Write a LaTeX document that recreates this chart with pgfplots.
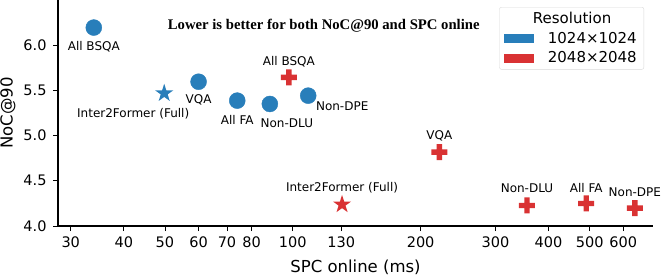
\documentclass[border=0pt]{standalone}
\usepackage{pgfplots}
\pgfplotsset{compat=1.18}
\usepackage{fontspec}
\setmainfont{DejaVu Sans}
\newfontfamily\titlefont{Liberation Serif}
\definecolor{tabblue}{RGB}{40,126,186}
\definecolor{tabred}{RGB}{217,50,51}
\pgfdeclareplotmark{fstar}{%
  \pgfpathmoveto{\pgfpointpolar{90}{\pgfplotmarksize}}%
  \pgfpathlineto{\pgfpointpolar{126}{0.382\pgfplotmarksize}}%
  \pgfpathlineto{\pgfpointpolar{162}{\pgfplotmarksize}}%
  \pgfpathlineto{\pgfpointpolar{198}{0.382\pgfplotmarksize}}%
  \pgfpathlineto{\pgfpointpolar{234}{\pgfplotmarksize}}%
  \pgfpathlineto{\pgfpointpolar{270}{0.382\pgfplotmarksize}}%
  \pgfpathlineto{\pgfpointpolar{306}{\pgfplotmarksize}}%
  \pgfpathlineto{\pgfpointpolar{342}{0.382\pgfplotmarksize}}%
  \pgfpathlineto{\pgfpointpolar{18}{\pgfplotmarksize}}%
  \pgfpathlineto{\pgfpointpolar{54}{0.382\pgfplotmarksize}}%
  \pgfpathclose
  \pgfusepathqfill}
\pgfdeclareplotmark{fplus}{%
  \pgfpathrectanglecorners{\pgfpoint{-\pgfplotmarksize}{-0.34\pgfplotmarksize}}{\pgfpoint{\pgfplotmarksize}{0.34\pgfplotmarksize}}%
  \pgfpathrectanglecorners{\pgfpoint{-0.34\pgfplotmarksize}{-\pgfplotmarksize}}{\pgfpoint{0.34\pgfplotmarksize}{\pgfplotmarksize}}%
  \pgfusepathqfill}
\begin{document}
\begin{tikzpicture}
\path[use as bounding box] (-58pt,-51pt) rectangle (606pt,226pt);
\begin{axis}[
  at={(0,0)}, anchor=south west, scale only axis, width=595pt, height=226pt,
  xmode=log, xmin=28, xmax=705, ymin=4.0, ymax=6.5,
  axis x line*=bottom, axis y line*=left,
  tick align=outside, major tick length=5pt,
  xtick={30,40,50,60,70,80,100,130,200,300,400,500,600},
  xticklabels={30,40,50,60,70,80,100,130,200,300,400,500,600},
  xminorticks=false, yminorticks=false,
  ytick={4.0,4.5,5.0,5.5,6.0},
  yticklabels={4.0,4.5,5.0,5.5,6.0},
  ticklabel style={font=\fontsize{14.5}{16}\selectfont},
  xticklabel style={yshift=-2pt},
  yticklabel style={xshift=-3pt},
  xlabel={SPC online (ms)}, ylabel={NoC@90},
  label style={font=\fontsize{16.5}{19}\selectfont},
  xlabel style={yshift=-6pt},
  ylabel style={yshift=1pt},
  axis line style={line width=1.1pt}, tick style={line width=0.9pt, black},
  clip=false,
  legend style={at={(1,1)}, anchor=north east, xshift=-9pt, yshift=-7pt,
    draw=black!15, rounded corners=2pt, font=\fontsize{15}{18}\selectfont,
    inner xsep=5pt, inner ysep=3pt, row sep=3pt,
    /tikz/every odd column/.append style={column sep=12pt}},
  legend cell align=left,
]
\addlegendimage{empty legend}\addlegendentry{\hspace*{-15pt}Resolution}
\addlegendimage{legend image code/.code={\fill[tabblue, sharp corners] (0pt,-4.2pt) rectangle (29pt,4.2pt);}}\addlegendentry{1024×1024}
\addlegendimage{legend image code/.code={\fill[tabred, sharp corners] (0pt,-4.2pt) rectangle (29pt,4.2pt);}}\addlegendentry{2048×2048}

\addplot[only marks, mark=*, mark size=8pt, color=tabblue, forget plot]
  coordinates {(34,6.195) (60,5.596) (74,5.387) (88.3,5.35) (108.7,5.442)};
\addplot[only marks, mark=fstar, mark size=9.5pt, color=tabblue, forget plot]
  coordinates {(49.8,5.468)};
\addplot[only marks, mark=fplus, mark size=8pt, color=tabred, forget plot]
  coordinates {(97.9,5.644) (221.4,4.818) (356,4.227) (490.8,4.249) (639,4.197)};
\addplot[only marks, mark=fstar, mark size=9.5pt, color=tabred, forget plot]
  coordinates {(130.6,4.238)};

\begin{scope}[every node/.style={font=\fontsize{12}{14}\selectfont}]
\node at ([yshift=-19pt]axis cs:34,6.195) {All BSQA};
\node at ([yshift=-18pt]axis cs:60,5.596) {VQA};
\node at ([xshift=-31pt,yshift=-20pt]axis cs:49.8,5.468) {Inter2Former (Full)};
\node at ([yshift=-19pt]axis cs:74,5.387) {All FA};
\node at ([xshift=17pt,yshift=-19pt]axis cs:88.3,5.35) {Non-DLU};
\node at ([xshift=34pt,yshift=-11pt]axis cs:108.7,5.442) {Non-DPE};
\node at ([yshift=16pt]axis cs:97.9,5.644) {All BSQA};
\node at ([yshift=16pt]axis cs:221.4,4.818) {VQA};
\node at ([yshift=17pt]axis cs:130.6,4.238) {Inter2Former (Full)};
\node at ([yshift=17pt]axis cs:356,4.227) {Non-DLU};
\node at ([yshift=16pt]axis cs:490.8,4.249) {All FA};
\node at ([yshift=16pt]axis cs:639,4.197) {Non-DPE};
\end{scope}
\node[font=\titlefont\bfseries\fontsize{14.7}{17}\selectfont] at (rel axis cs:0.4466,0.885) {Lower is better for both NoC@90 and SPC online};
\end{axis}
\end{tikzpicture}
\end{document}
